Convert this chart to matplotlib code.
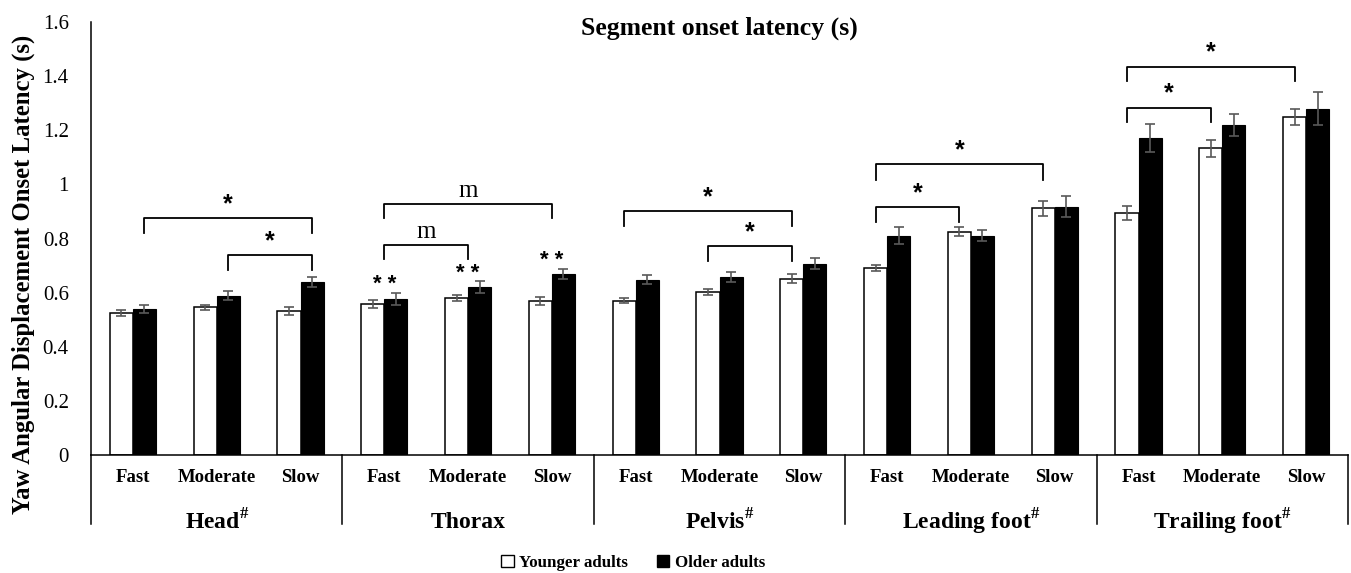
import matplotlib.pyplot as plt
import numpy as np
from matplotlib.patches import Patch

plt.rcParams['font.family'] = 'Liberation Serif'
plt.rcParams['mathtext.fontset'] = 'custom'
plt.rcParams['mathtext.rm'] = 'Liberation Serif'
plt.rcParams['mathtext.bf'] = 'Liberation Serif:bold'

groups = ['Head', 'Thorax', 'Pelvis', 'Leading foot', 'Trailing foot']
group_hash = [True, False, True, True, True]
speeds = ['Fast', 'Moderate', 'Slow']

younger = [0.525, 0.546, 0.533, 0.557, 0.581, 0.570, 0.570, 0.604, 0.652,
           0.691, 0.825, 0.912, 0.895, 1.133, 1.250]
older = [0.540, 0.589, 0.638, 0.577, 0.621, 0.670, 0.648, 0.659, 0.707,
         0.810, 0.810, 0.918, 1.171, 1.219, 1.280]
younger_err = [0.010, 0.009, 0.014, 0.014, 0.012, 0.015, 0.009, 0.011, 0.017,
               0.012, 0.017, 0.028, 0.025, 0.030, 0.030]
older_err = [0.015, 0.017, 0.018, 0.023, 0.021, 0.018, 0.017, 0.018, 0.020,
             0.031, 0.021, 0.039, 0.051, 0.040, 0.060]

# brackets: (from category, to category, bracket top, leg bottom, label, side)
brackets = [
    (0, 2, 0.875, 0.820, '*', 1), (1, 2, 0.739, 0.684, '*', 1),
    (3, 5, 0.928, 0.875, 'm', 0), (3, 4, 0.776, 0.723, 'm', 0),
    (6, 8, 0.902, 0.846, '*', -1), (7, 8, 0.771, 0.717, '*', -1),
    (9, 11, 1.075, 1.018, '*', -1), (9, 10, 0.915, 0.862, '*', -1),
    (12, 14, 1.435, 1.383, '*', -1), (12, 13, 1.283, 1.232, '*', -1),
]
double_star = [3, 4, 5]

fig = plt.figure(figsize=(13.51, 5.73), dpi=100)
ax = fig.add_axes([91 / 1351, 118 / 573, 1257 / 1351, 433 / 573])

n = len(younger)
x = np.arange(n)
w = 0.275
ekw = dict(ecolor='#595959', elinewidth=1.2, capsize=3.5, capthick=1.2)
ax.bar(x - w / 2, younger, w, color='white', edgecolor='black', linewidth=1.1,
       yerr=younger_err, error_kw=ekw, zorder=2)
ax.bar(x + w / 2, older, w, color='black', edgecolor='black', linewidth=0.8,
       yerr=older_err, error_kw=ekw, zorder=2)

ax.set_xlim(-0.5, n - 0.5)
ax.set_ylim(0, 1.6)
ax.set_yticks(np.arange(0, 1.61, 0.2))
ax.set_yticklabels([f'{v:g}' for v in np.arange(0, 1.61, 0.2)], fontsize=15)
ax.tick_params(axis='y', length=0, pad=16)
ax.set_xticks([])
for s in ['top', 'right']:
    ax.spines[s].set_visible(False)
ax.spines['left'].set_linewidth(1.1)
ax.spines['bottom'].set_linewidth(1.1)

trans = ax.get_xaxis_transform()
for i in range(n):
    ax.text(i, -0.053, speeds[i % 3], transform=trans, ha='center', va='center',
            fontsize=13.5, fontweight='bold')
for g, name in enumerate(groups):
    label = name + (r'$^{\mathbf{\#}}$' if group_hash[g] else '')
    ax.text(3 * g + 1, -0.155, label, transform=trans, ha='center', va='center',
            fontsize=17, fontweight='bold')
for b in range(len(groups) + 1):
    ax.plot([3 * b - 0.5] * 2, [0, -0.159], transform=trans, color='black',
            lw=1.1, clip_on=False)

for c0, c1, top, leg, lab, side in brackets:
    x0 = c0 + side * w / 2
    x1 = c1 + side * w / 2
    ax.plot([x0, x0, x1, x1], [leg, top, top, leg], color='black', lw=1.3, zorder=3)
    if lab == '*':
        ax.text((x0 + x1) / 2, top + 0.052, '*', ha='center', va='center',
                fontsize=18, fontweight='bold', family='Liberation Sans')
    else:
        ax.text((x0 + x1) / 2, top + 0.047, lab, ha='center', va='center', fontsize=18)

for c in double_star:
    yy = max(younger[c] + younger_err[c], older[c] + older_err[c]) + 0.03
    ax.text(c, yy, '* *', ha='center', va='center', fontsize=16,
            fontweight='bold', family='Liberation Sans')

ax.text(0.5, 0.986, 'Segment onset latency (s)', transform=ax.transAxes,
        ha='center', va='center', fontsize=18.5, fontweight='bold')
fig.text(23 / 1351, 1 - 274 / 573, 'Yaw Angular Displacement Onset Latency (s)',
         rotation=90, ha='center', va='center', fontsize=17.8, fontweight='bold')

handles = [Patch(facecolor='white', edgecolor='black', label='Younger adults'),
           Patch(facecolor='black', edgecolor='black', label='Older adults')]
fig.legend(handles=handles, loc='center', bbox_to_anchor=(633 / 1351, 10 / 573),
           ncol=2, frameon=False, handlelength=0.75, handleheight=0.75,
           handletextpad=0.3, columnspacing=1.7, prop={'weight': 'bold', 'size': 12.2})

fig.savefig('out.png', dpi=100)
